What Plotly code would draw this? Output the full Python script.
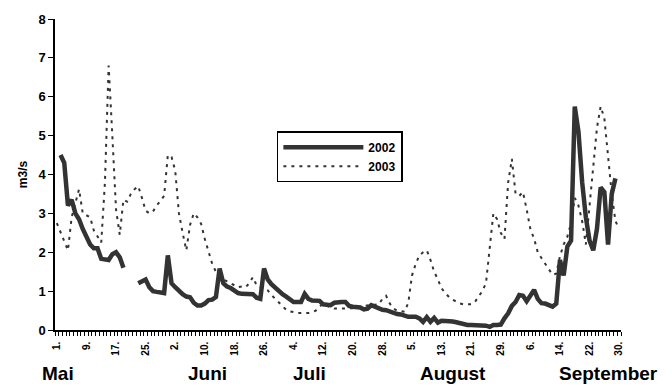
import plotly.graph_objects as go

# Day index 1..153 = 1 May .. 30 September
days = list(range(1, 154))

q2002 = [
    None, 4.5, 4.3, 3.2, 3.35, 3.0, 2.85, 2.6, 2.4, 2.2,
    2.1, 2.1, 1.83, 1.8, 1.8, 1.95, 2.0, 1.87, 1.6, None,
    None, None, 1.2, 1.25, 1.3, 1.1, 1.0, 0.98, 0.97, 0.95,
    1.92, 1.2, 1.1, 1.0, 0.92, 0.86, 0.84, 0.7, 0.63, 0.63,
    0.68, 0.77, 0.78, 0.85, 1.58, 1.2, 1.12, 1.08, 1.0, 0.95,
    0.93, 0.93, 0.93, 0.92, 0.83, 0.8, 1.58, 1.3, 1.18, 1.08,
    1.0, 0.92, 0.86, 0.78, 0.72, 0.72, 0.72, 0.93, 0.8, 0.76,
    0.76, 0.75, 0.66, 0.64, 0.64, 0.7, 0.72, 0.72, 0.72, 0.62,
    0.6, 0.6, 0.58, 0.53, 0.55, 0.64, 0.6, 0.55, 0.52, 0.51,
    0.47, 0.43, 0.41, 0.4, 0.36, 0.34, 0.34, 0.34, 0.3, 0.21,
    0.33, 0.21, 0.31, 0.19, 0.24, 0.24, 0.23, 0.22, 0.2, 0.17,
    0.13, 0.13, 0.13, 0.13, 0.13, 0.13, 0.11, 0.08, 0.13, 0.13,
    0.14, 0.3, 0.43, 0.62, 0.72, 0.9, 0.88, 0.74, 0.88, 1.03,
    0.8, 0.69, 0.68, 0.64, 0.6, 0.68, 1.8, 1.4, 2.15, 2.3,
    5.75, 5.1, 3.8, 2.9, 2.3, 2.05, 2.6, 3.67, 3.55, 2.2,
    3.5, 3.9, None,
]

q2003 = [
    2.75, 2.5, 2.3, 2.05, 2.9, 3.25, 3.62, 3.0, 2.95, 2.9,
    2.56, 2.4, 2.25, 3.8, 6.8, 5.0, 3.1, 2.45, 3.35, 3.3,
    3.5, 3.62, 3.7, 3.4, 3.07, 3.0, 3.05, 3.2, 3.32, 3.45,
    4.5, 4.45, 4.1, 3.0, 2.5, 2.05, 2.7, 3.0, 2.9, 2.73,
    2.34, 2.05, 1.7, 1.5, 1.4, 1.3, 1.25, 1.2, 1.15, 1.1,
    1.12, 1.1, 1.2, 1.36, 1.15, 1.1, 1.06, 1.02, 0.9, 0.8,
    0.7, 0.6, 0.52, 0.48, 0.45, 0.44, 0.44, 0.44, 0.44, 0.46,
    0.5, 0.6, 0.68, 0.62, 0.58, 0.55, 0.55, 0.55, 0.55, 0.56,
    0.56, 0.58, 0.6, 0.62, 0.64, 0.65, 0.65, 0.66, 0.8, 0.88,
    0.68, 0.55, 0.5, 0.48, 0.47, 0.7, 1.4, 1.7, 1.92, 2.0,
    2.05, 1.8, 1.5, 1.3, 1.07, 0.95, 0.85, 0.78, 0.72, 0.68,
    0.66, 0.66, 0.66, 0.72, 0.85, 1.0, 1.2, 2.1, 3.0, 2.85,
    2.5, 2.34, 3.8, 4.4, 3.5, 3.45, 3.55, 3.1, 2.6, 2.35,
    2.0, 1.85, 1.7, 1.55, 1.42, 1.45, 1.9, 2.2, 2.4, 2.75,
    3.4, 3.2, 2.8, 2.2, 3.3, 4.2, 5.2, 5.75, 5.45, 4.5,
    3.5, 2.8, 2.6,
]

tick_days = [1, 9, 17, 25, 33, 41, 49, 57, 65, 73, 81, 89, 97, 105, 113, 121, 129, 137, 145, 153]
tick_labels = ["1.", "9.", "17.", "25.", "2.", "10.", "18.", "26.", "4.", "12.",
               "20.", "28.", "5.", "13.", "21.", "29.", "6.", "14.", "22.", "30."]
months = ["Mai", "Juni", "Juli", "August", "September"]
month_pos = [1.3, 41.6, 69.4, 108.0, 150.0]

FONT = "Liberation Sans, Arial, sans-serif"
INK = "#333333"

fig = go.Figure()
fig.add_trace(go.Scatter(x=days, y=q2002, name="2002", mode="lines",
                         line=dict(color=INK, width=4.5), connectgaps=False))
fig.add_trace(go.Scatter(x=days, y=q2003, name="2003", mode="lines",
                         line=dict(color=INK, width=2, dash="3px,5px")))

for m, p in zip(months, month_pos):
    fig.add_annotation(x=p, y=-0.14, xref="x", yref="paper", text=m,
                       showarrow=False, xanchor="center", yanchor="middle",
                       font=dict(family=FONT, size=19, color="black", weight="bold"))

fig.update_xaxes(range=[0.5, 153.5], tickmode="array", tickvals=tick_days, ticktext=tick_labels,
                 tickangle=-90, ticks="outside", ticklen=0, showline=True, linecolor="black",
                 linewidth=1.5, showgrid=False, zeroline=False, ticklabelstandoff=6,
                 tickfont=dict(family=FONT, size=10, color="black", weight="bold"),
                 minor=dict(ticks="outside", tick0=0.5, dtick=1, ticklen=4, tickcolor="black",
                            tickwidth=1, showgrid=False))
fig.update_yaxes(range=[0, 8], dtick=1, ticks="outside", ticklen=5, tickcolor="black",
                 showline=True, linecolor="black", linewidth=1.5, showgrid=False, zeroline=False,
                 tickfont=dict(family=FONT, size=13, color="black", weight="bold"),
                 title=dict(text="m3/s", standoff=8,
                            font=dict(family=FONT, size=12, color="black", weight="bold")))

fig.update_layout(
    width=672, height=387,
    margin=dict(l=55, r=51, t=17, b=57),
    paper_bgcolor="white", plot_bgcolor="white",
    showlegend=True,
    legend=dict(x=0.392, y=0.639, xanchor="left", yanchor="top",
                bordercolor="black", borderwidth=1.5, bgcolor="white",
                itemwidth=80, font=dict(family=FONT, size=12, color="black", weight="bold")),
)

fig.write_html("out.html")
